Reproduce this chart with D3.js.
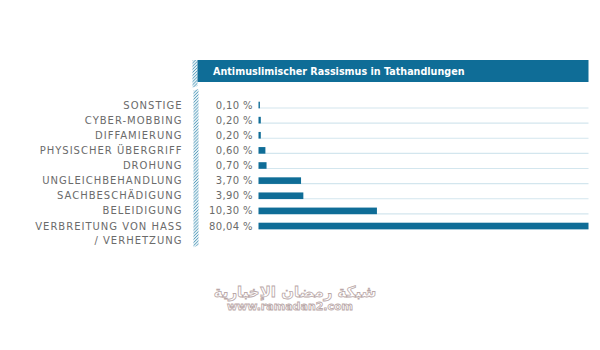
<!DOCTYPE html>
<html>
<head>
<meta charset="utf-8">
<script src="https://cdn.jsdelivr.net/npm/d3@7"></script>
<style>
  html, body { margin: 0; padding: 0; background: #fff; }
  svg { display: block; }
</style>
</head>
<body>
<svg id="chart" width="600" height="350"></svg>
<script>
// Anteile antimuslimischer Tathandlungen (in %)
const categories = [
  "SONSTIGE",
  "CYBER-MOBBING",
  "DIFFAMIERUNG",
  "PHYSISCHER ÜBERGRIFF",
  "DROHUNG",
  "UNGLEICHBEHANDLUNG",
  "SACHBESCHÄDIGUNG",
  "BELEIDIGUNG",
  "VERBREITUNG VON HASS / VERHETZUNG"
];
const values = [0.10, 0.20, 0.20, 0.60, 0.70, 3.70, 3.90, 10.30, 80.04];
const valueLabels = ["0,10 %", "0,20 %", "0,20 %", "0,60 %", "0,70 %", "3,70 %", "3,90 %", "10,30 %", "80,04 %"];
const title = "Antimuslimischer Rassismus in Tathandlungen";

const blue = "#0f6d97";
const grey = "#6b6b6b";
const grid = "#d3e6ee";

const svg = d3.select("#chart");

// hatched band pattern
const defs = svg.append("defs");
const pat = defs.append("pattern")
  .attr("id", "hatch")
  .attr("patternUnits", "userSpaceOnUse")
  .attr("width", 2.2).attr("height", 2.2)
  .attr("patternTransform", "rotate(45)");
pat.append("rect").attr("width", 2.2).attr("height", 2.2).attr("fill", "#e4f0f5");
pat.append("line").attr("x1", 0).attr("y1", 0).attr("x2", 0).attr("y2", 2.2)
  .attr("stroke", "#3f8fb3").attr("stroke-width", 1.2);

const x0 = 258.5, x1 = 588.5;
// linear scale, long bar clipped at the right edge of the plot
const x = d3.scaleLinear().domain([0, 28.7]).range([x0, x1]).clamp(true);
const y = d3.scalePoint().domain(categories).range([105, 226]);

// header banner
svg.append("path")
  .attr("d", "M192.5,60 L197.5,60 L197.5,86 L192.5,87.5 Z")
  .attr("fill", "url(#hatch)");
svg.append("rect")
  .attr("x", 197.5).attr("y", 60)
  .attr("width", x1 - 197.5).attr("height", 22)
  .attr("fill", blue);
svg.append("text")
  .attr("x", 213).attr("y", 74.5)
  .attr("fill", "#fff")
  .attr("font-family", "DejaVu Sans")
  .attr("font-weight", "bold")
  .attr("font-size", 9.6)
  .text(title);

// vertical hatched separator
svg.append("path")
  .attr("d", "M193.5,90.5 L198.5,89 L198.5,245 L193.5,247.5 Z")
  .attr("fill", "url(#hatch)");

// gridlines
svg.append("g").selectAll("line")
  .data(categories)
  .join("line")
  .attr("x1", x0).attr("x2", x1)
  .attr("y1", d => y(d) + 3).attr("y2", d => y(d) + 3)
  .attr("stroke", grid).attr("stroke-width", 1.2);

// bars
svg.append("g").selectAll("rect")
  .data(values)
  .join("rect")
  .attr("x", x0)
  .attr("y", (d, i) => y(categories[i]) - 3.3)
  .attr("width", d => Math.max(1.4, x(d) - x0))
  .attr("height", 6.6)
  .attr("fill", blue);

// category labels
const lab = svg.append("g")
  .attr("font-family", "DejaVu Sans")
  .attr("font-size", 10)
  .attr("letter-spacing", 1)
  .attr("fill", grey)
  .attr("text-anchor", "end");
categories.forEach((c, i) => {
  const parts = c === "VERBREITUNG VON HASS / VERHETZUNG"
    ? ["VERBREITUNG VON HASS", "/ VERHETZUNG"] : [c];
  parts.forEach((p, j) => {
    lab.append("text")
      .attr("x", 182.5)
      .attr("y", y(c) + 3.6 + j * 14.5)
      .text(p);
  });
});

// value labels
svg.append("g")
  .attr("font-family", "DejaVu Sans")
  .attr("font-size", 10)
  .attr("letter-spacing", 0.4)
  .attr("fill", grey)
  .attr("text-anchor", "end")
  .selectAll("text")
  .data(valueLabels)
  .join("text")
  .attr("x", 253)
  .attr("y", (d, i) => y(categories[i]) + 3.6)
  .text(d => d);

// watermark
const wm = svg.append("g")
  .attr("text-anchor", "middle")
  .attr("fill", "#fff")
  .attr("stroke", "#b9a7a7")
  .attr("stroke-width", 0.8)
  .attr("font-family", "DejaVu Sans")
  .attr("font-weight", "bold");
wm.append("text").attr("x", 295).attr("y", 297).attr("font-size", 15).text("شبكة رمضان الإخبارية");
wm.append("text").attr("x", 290).attr("y", 310).attr("font-size", 11).text("www.ramadan2.com");
</script>
</body>
</html>
